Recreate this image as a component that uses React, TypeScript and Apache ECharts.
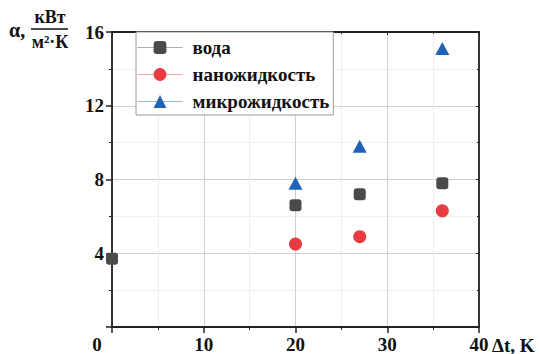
import React, { useEffect, useRef } from "react";
import * as echarts from "echarts";

const seriesNames = ["вода", "наножидкость", "микрожидкость"];
const waterData: number[][] = [[0, 3.7], [20, 6.6], [27, 7.2], [36, 7.8]];
const nanoData: number[][] = [[20, 4.5], [27, 4.9], [36, 6.3]];
const microData: number[][] = [[20, 7.8], [27, 9.8], [36, 15.1]];
const xTicks = [0, 10, 20, 30, 40];
const yTicks = [4, 8, 12, 16];

const FONT = "'Liberation Serif', 'Times New Roman', serif";

export default function App() {
  const ref = useRef<HTMLDivElement>(null);
  useEffect(() => {
    if (!ref.current) return;
    const chart = echarts.init(ref.current, undefined, { renderer: "svg" });
    const axisLine = { show: true, lineStyle: { color: "#222", width: 1.8 } };
    const option: any = {
      animation: false,
      backgroundColor: "#fff",
      grid: { left: 112, right: 61, top: 32, bottom: 25, containLabel: false },
      legend: {
        orient: "vertical",
        left: 136,
        top: 32,
        width: 197,
        padding: [6, 4, 4, 1],
        itemGap: 8,
        itemWidth: 45,
        itemHeight: 16,
        borderColor: "#9a9a9a",
        borderWidth: 1,
        backgroundColor: "#fff",
        data: seriesNames,
        textStyle: { fontFamily: FONT, fontWeight: "bold", fontSize: 19, color: "#111", padding: [0, 0, 0, 5] },
        lineStyle: { width: 1, opacity: 0.45 },
      },
      xAxis: [
        {
          type: "value",
          min: 0,
          max: 40,
          interval: 10,
          axisLine: { ...axisLine, onZero: false },
          axisTick: { show: true, inside: false, length: 6, lineStyle: { color: "#222", width: 1.5 } },
          minorTick: { show: true, splitNumber: 2, length: 3, lineStyle: { color: "#222", width: 1 } },
          splitLine: { show: true, lineStyle: { color: "#cfcfcf", width: 1 } },
          minorSplitLine: { show: true, lineStyle: { color: "#efefef", width: 1 } },
          axisLabel: {
            margin: 8,
            fontFamily: FONT,
            fontWeight: "bold",
            fontSize: 19,
            color: "#111",
            formatter: (v: number) => (v === 0 ? "{z|0}" : String(v)),
            rich: { z: { fontFamily: FONT, fontWeight: "bold", fontSize: 19, color: "#111", padding: [0, 30, 0, 0] } },
          },
          data: xTicks,
        },
        {
          type: "value",
          position: "top",
          min: 0,
          max: 40,
          interval: 10,
          axisLine: { ...axisLine, onZero: false },
          axisTick: { show: true, inside: true, length: 3, lineStyle: { color: "#222" } },
          minorTick: { show: true, splitNumber: 2, length: 2, lineStyle: { color: "#222" } },
          splitLine: { show: false },
          axisLabel: { show: false },
        },
      ],
      yAxis: [
        {
          type: "value",
          min: 0,
          max: 16,
          interval: 4,
          axisLine: { ...axisLine, onZero: false },
          axisTick: { show: true, inside: false, length: 6, lineStyle: { color: "#222", width: 1.5 } },
          minorTick: { show: true, splitNumber: 2, length: 3, lineStyle: { color: "#222", width: 1 } },
          splitLine: { show: true, lineStyle: { color: "#cfcfcf", width: 1 } },
          minorSplitLine: { show: true, lineStyle: { color: "#efefef", width: 1 } },
          axisLabel: {
            margin: 8,
            fontFamily: FONT,
            fontWeight: "bold",
            fontSize: 19,
            color: "#111",
            formatter: (v: number) => (yTicks.includes(v) ? String(v) : ""),
          },
        },
        {
          type: "value",
          position: "right",
          min: 0,
          max: 16,
          interval: 4,
          axisLine: { ...axisLine, onZero: false },
          axisTick: { show: true, inside: true, length: 3, lineStyle: { color: "#222" } },
          minorTick: { show: true, splitNumber: 2, length: 2, lineStyle: { color: "#222" } },
          splitLine: { show: false },
          axisLabel: { show: false },
        },
      ],
      series: [
        {
          name: seriesNames[0],
          type: "line",
          data: waterData,
          symbol: "roundRect",
          symbolSize: 12,
          lineStyle: { width: 0, color: "#4a4a4a" },
          itemStyle: { color: "#4a4a4a" },
          z: 5,
        },
        {
          name: seriesNames[1],
          type: "line",
          data: nanoData,
          symbol: "circle",
          symbolSize: 13,
          lineStyle: { width: 0, color: "#e83a3f" },
          itemStyle: { color: "#e83a3f" },
          z: 5,
        },
        {
          name: seriesNames[2],
          type: "line",
          data: microData,
          symbol: "triangle",
          symbolSize: [14, 13],
          lineStyle: { width: 0, color: "#1f63b8" },
          itemStyle: { color: "#1f63b8" },
          z: 5,
        },
      ],
      graphic: [
        { type: "text", left: 9, top: 20, style: { text: "α,", font: `bold 20px ${FONT}`, fill: "#111" } },
        { type: "text", x: 50, y: 17, style: { text: "кВт", font: `bold 18px ${FONT}`, fill: "#111", align: "center", verticalAlign: "middle" } },
        { type: "line", shape: { x1: 31, y1: 29, x2: 68, y2: 29 }, style: { stroke: "#111", lineWidth: 1.6 } },
        { type: "text", x: 50, y: 42, style: { text: "м²·К", font: `bold 18px ${FONT}`, fill: "#111", align: "center", verticalAlign: "middle" } },
        { type: "text", x: 492, y: 345, style: { text: "Δt, K", font: `bold 19px ${FONT}`, fill: "#111", align: "left", verticalAlign: "middle" } },
      ],
    };
    chart.setOption(option);
    return () => chart.dispose();
  }, []);
  return <div ref={ref} style={{ width: 540, height: 354, position: "absolute", left: 0, top: 0 }} />;
}
